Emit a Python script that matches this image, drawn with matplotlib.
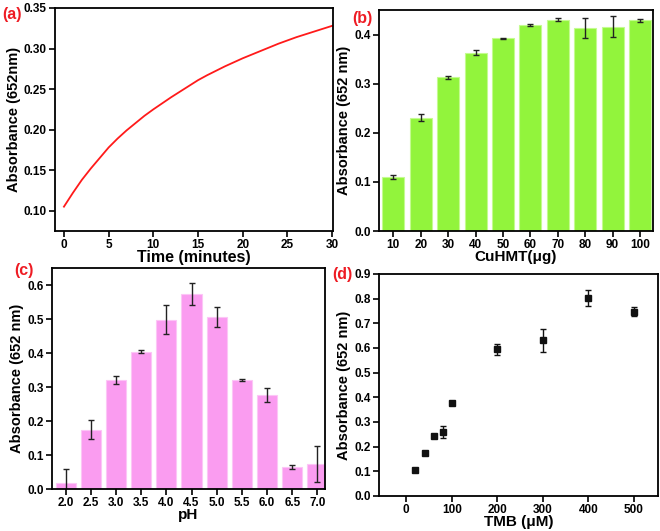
import matplotlib
matplotlib.use("Agg")
import matplotlib.pyplot as plt
import numpy as np

plt.rcParams["font.family"] = ["Liberation Sans", "DejaVu Sans"]
plt.rcParams["font.weight"] = "bold"
plt.rcParams["axes.labelweight"] = "bold"

# (a) absorbance vs time
time_min = [0, 1, 2, 3, 4, 5, 6, 7, 8, 9, 10, 12, 14, 15, 16, 18, 20, 22, 24, 25, 26, 28, 30]
abs_time = [0.105, 0.122, 0.138, 0.152, 0.165, 0.178, 0.189, 0.199, 0.208, 0.217, 0.225,
            0.240, 0.254, 0.261, 0.267, 0.278, 0.288, 0.297, 0.306, 0.310, 0.314, 0.321, 0.328]

# (b) CuHMT amount
cuhmt = [10, 20, 30, 40, 50, 60, 70, 80, 90, 100]
abs_cuhmt = [0.110, 0.231, 0.313, 0.363, 0.392, 0.419, 0.430, 0.414, 0.416, 0.429]
err_cuhmt = [0.005, 0.007, 0.0025, 0.005, 0.001, 0.002, 0.003, 0.020, 0.021, 0.003]

# (c) pH
ph = [2.0, 2.5, 3.0, 3.5, 4.0, 4.5, 5.0, 5.5, 6.0, 6.5, 7.0]
abs_ph = [0.018, 0.175, 0.320, 0.404, 0.498, 0.574, 0.505, 0.321, 0.276, 0.066, 0.074]
err_ph = [0.040, 0.028, 0.011, 0.005, 0.042, 0.032, 0.029, 0.004, 0.021, 0.006, 0.053]

# (d) TMB concentration
tmb = [20, 40, 60, 80, 100, 200, 300, 400, 500]
abs_tmb = [0.106, 0.176, 0.244, 0.261, 0.378, 0.595, 0.631, 0.803, 0.747]
err_tmb = [0.005, 0.005, 0.005, 0.024, 0.006, 0.022, 0.048, 0.031, 0.019]

W, H = 660, 531
fig = plt.figure(figsize=(6.6, 5.31), dpi=100)


def add_ax(x0, y0, x1, y1):
    return fig.add_axes([x0 / W, 1 - y1 / H, (x1 - x0) / W, (y1 - y0) / H])


def style(ax):
    for s in ax.spines.values():
        s.set_linewidth(1.3)
    ax.tick_params(direction="out", length=4, width=1.2, labelsize=8.5, pad=2)
    for lbl in ax.get_xticklabels() + ax.get_yticklabels():
        lbl.set_fontweight("bold")


ax_a = add_ax(55, 8, 333, 231)
ax_b = add_ax(379, 10, 653, 231)
ax_c = add_ax(52, 268, 325, 489)
ax_d = add_ax(379, 274, 658, 496)

# (a)
ax_a.plot(time_min, abs_time, color="#ff1a1a", lw=1.3)
ax_a.set_xlim(-1, 30.1)
ax_a.set_ylim(0.075, 0.35)
ax_a.set_xticks([0, 5, 10, 15, 20, 25, 30])
ax_a.set_yticks([0.10, 0.15, 0.20, 0.25, 0.30, 0.35])
ax_a.yaxis.set_major_formatter(matplotlib.ticker.FormatStrFormatter("%.2f"))
ax_a.set_xlabel("Time (minutes)", fontsize=11.5, labelpad=-1)
ax_a.set_ylabel("Absorbance (652nm)", fontsize=10.5, labelpad=2)
style(ax_a)

# (b)
ax_b.bar(cuhmt, abs_cuhmt, width=8, color="#92f43c", edgecolor="#c4fb90", lw=0.8,
         yerr=err_cuhmt, error_kw=dict(ecolor="#222222", elinewidth=1, capsize=2.5, capthick=1))
ax_b.set_xlim(4.8, 104.7)
ax_b.set_ylim(0, 0.45)
ax_b.set_xticks(cuhmt)
ax_b.set_yticks([0.0, 0.1, 0.2, 0.3, 0.4])
ax_b.set_xlabel("CuHMT(\u03bcg)", fontsize=11, labelpad=-1)
ax_b.set_ylabel("Absorbance (652 nm)", fontsize=10.5, labelpad=2)
style(ax_b)

# (c)
ax_c.bar(ph, abs_ph, width=0.4, color="#fa9cf0", edgecolor="#fcc6f6", lw=0.8,
         yerr=err_ph, error_kw=dict(ecolor="#222222", elinewidth=1, capsize=2.5, capthick=1))
ax_c.set_xlim(1.73, 7.15)
ax_c.set_ylim(0, 0.65)
ax_c.set_xticks(ph)
ax_c.xaxis.set_major_formatter(matplotlib.ticker.FormatStrFormatter("%.1f"))
ax_c.set_yticks([0.0, 0.1, 0.2, 0.3, 0.4, 0.5, 0.6])
ax_c.set_xlabel("pH", fontsize=11, labelpad=-1)
ax_c.set_ylabel("Absorbance (652 nm)", fontsize=10.5, labelpad=2)
style(ax_c)

# (d)
ax_d.errorbar(tmb, abs_tmb, yerr=err_tmb, fmt="s", color="#111111", ms=4.5,
              elinewidth=1, capsize=2.5, capthick=1)
ax_d.set_xlim(-60, 553)
ax_d.set_ylim(0, 0.9)
ax_d.set_xticks([0, 100, 200, 300, 400, 500])
ax_d.set_yticks(np.arange(0, 0.91, 0.1))
ax_d.yaxis.set_major_formatter(matplotlib.ticker.FormatStrFormatter("%.1f"))
ax_d.set_xlabel("TMB (\u03bcM)", fontsize=11, labelpad=-1)
ax_d.set_ylabel("Absorbance (652 nm)", fontsize=10.5, labelpad=2)
style(ax_d)

for txt, x, y in [("(a)", 2, 15), ("(b)", 352, 18), ("(c)", 14, 270), ("(d)", 332, 275)]:
    fig.text(x / W, 1 - y / H, txt, color="#ee1c24", fontsize=11.5, fontweight="bold",
             va="center", ha="left")

fig.savefig("out.png", dpi=100)
